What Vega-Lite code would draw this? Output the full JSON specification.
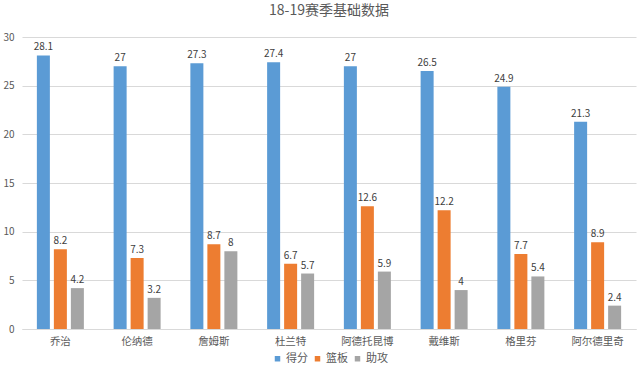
{
  "$schema": "https://vega.github.io/schema/vega-lite/v6.json",
  "width": 614,
  "height": 292,
  "autosize": {"type": "none"},
  "padding": {"left": 22, "top": 37, "right": 4, "bottom": 50},
  "background": "white",
  "title": {
    "text": "18-19赛季基础数据",
    "font": "Noto Sans CJK SC",
    "fontSize": 14,
    "fontWeight": "normal",
    "color": "#595959",
    "anchor": "middle",
    "offset": 14
  },
  "config": {
    "font": "Noto Sans CJK SC",
    "view": {"stroke": null},
    "axis": {"labelColor": "#595959", "labelFontSize": 10, "titleColor": "#595959"}
  },
  "data": {
    "values": [
      {"player": "乔治", "stat": "得分", "value": 28.1},
      {"player": "乔治", "stat": "篮板", "value": 8.2},
      {"player": "乔治", "stat": "助攻", "value": 4.2},
      {"player": "伦纳德", "stat": "得分", "value": 27},
      {"player": "伦纳德", "stat": "篮板", "value": 7.3},
      {"player": "伦纳德", "stat": "助攻", "value": 3.2},
      {"player": "詹姆斯", "stat": "得分", "value": 27.3},
      {"player": "詹姆斯", "stat": "篮板", "value": 8.7},
      {"player": "詹姆斯", "stat": "助攻", "value": 8},
      {"player": "杜兰特", "stat": "得分", "value": 27.4},
      {"player": "杜兰特", "stat": "篮板", "value": 6.7},
      {"player": "杜兰特", "stat": "助攻", "value": 5.7},
      {"player": "阿德托昆博", "stat": "得分", "value": 27},
      {"player": "阿德托昆博", "stat": "篮板", "value": 12.6},
      {"player": "阿德托昆博", "stat": "助攻", "value": 5.9},
      {"player": "戴维斯", "stat": "得分", "value": 26.5},
      {"player": "戴维斯", "stat": "篮板", "value": 12.2},
      {"player": "戴维斯", "stat": "助攻", "value": 4},
      {"player": "格里芬", "stat": "得分", "value": 24.9},
      {"player": "格里芬", "stat": "篮板", "value": 7.7},
      {"player": "格里芬", "stat": "助攻", "value": 5.4},
      {"player": "阿尔德里奇", "stat": "得分", "value": 21.3},
      {"player": "阿尔德里奇", "stat": "篮板", "value": 8.9},
      {"player": "阿尔德里奇", "stat": "助攻", "value": 2.4}
    ]
  },
  "encoding": {
    "x": {
      "field": "player",
      "type": "nominal",
      "sort": null,
      "scale": {"paddingInner": 0, "paddingOuter": 0},
      "axis": {
        "title": null,
        "labelAngle": 0,
        "bandPosition": 0.5,
        "labelAlign": "center",
        "domainColor": "#D9D9D9",
        "ticks": false,
        "labelPadding": 7,
        "labelFontSize": 10.5
      }
    },
    "xOffset": {
      "field": "stat",
      "type": "nominal",
      "sort": ["得分", "篮板", "助攻"],
      "scale": {"paddingInner": 0.235, "paddingOuter": 0.875}
    },
    "y": {
      "field": "value",
      "type": "quantitative",
      "scale": {"domain": [0, 30]},
      "axis": {
        "title": null,
        "values": [0, 5, 10, 15, 20, 25, 30],
        "domain": false,
        "ticks": false,
        "gridColor": "#D9D9D9",
        "labelPadding": 8
      }
    }
  },
  "layer": [
    {
      "mark": {"type": "bar"},
      "encoding": {
        "color": {
          "field": "stat",
          "type": "nominal",
          "sort": ["得分", "篮板", "助攻"],
          "scale": {"domain": ["得分", "篮板", "助攻"], "range": ["#5B9BD5", "#ED7D31", "#A5A5A5"]},
          "legend": {
            "title": null,
            "orient": "none",
            "legendX": 250,
            "legendY": 316,
            "direction": "horizontal",
            "symbolType": "square",
            "symbolSize": 30,
            "symbolStrokeWidth": 0,
            "labelFontSize": 11,
            "labelColor": "#595959",
            "labelOffset": 3,
            "columnPadding": 4
          }
        }
      }
    },
    {
      "mark": {"type": "text", "dy": -8, "fontSize": 10, "color": "#404040"},
      "encoding": {
        "text": {"field": "value", "type": "quantitative", "format": "~g"}
      }
    }
  ]
}
